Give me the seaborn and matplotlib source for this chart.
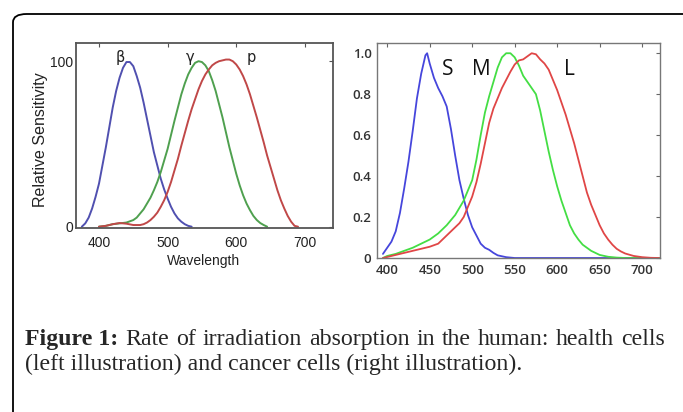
import numpy as np
import pandas as pd
import matplotlib
matplotlib.use("Agg")
import matplotlib.pyplot as plt
import seaborn as sns
from matplotlib.patches import FancyBboxPatch

# ---- left panel: healthy cells (relative sensitivity, 0-100)
beta_wl = [375, 380, 385, 390, 395, 400, 405, 410, 415, 420, 425, 430, 435, 440, 445, 450,
           455, 460, 465, 470, 475, 480, 485, 490, 495, 500, 505, 510, 515, 520, 525, 530, 535]
beta_val = [0, 2, 5.5, 11, 18, 26, 37, 48, 60, 72, 82, 90, 96, 99.5, 99.5, 97,
            91, 84, 75, 65, 55, 45, 37, 29, 22.5, 17, 12, 8, 5, 3, 1.5, 0.5, 0]

gamma_wl = [400, 410, 420, 430, 440, 450, 455, 460, 465, 470, 475, 480, 485, 490, 495, 500,
            505, 510, 515, 520, 525, 530, 535, 540, 545, 550, 555, 560, 565, 570, 575, 580,
            585, 590, 595, 600, 605, 610, 615, 620, 625, 630, 635, 640, 645]
gamma_val = [0, 0.5, 1.5, 2, 2.5, 4, 5.5, 8, 10.5, 14, 17.5, 22, 27, 33, 40, 47,
             55.5, 64, 72, 80, 86.5, 92, 96, 99, 100, 99.5, 97.5, 94, 88.5, 82, 74, 66,
             57, 48, 40, 32, 25, 19, 14, 10, 6.5, 4, 2.2, 1, 0]

rho_wl = [400, 410, 420, 430, 440, 450, 460, 465, 470, 475, 480, 485, 490, 495, 500, 505,
          510, 515, 520, 525, 530, 535, 540, 545, 550, 555, 560, 565, 570, 575, 580, 585,
          590, 595, 600, 605, 610, 615, 620, 625, 630, 635, 640, 645, 650, 655, 660, 665,
          670, 675, 680, 685, 690]
rho_val = [0, 0.5, 1.5, 2.2, 1.8, 1, 1, 1.5, 2.5, 4, 6, 8.5, 12, 16, 21, 27,
           34, 41, 49, 56.5, 64, 71, 77, 83, 88, 92, 95, 97.5, 99, 100, 100.5, 101,
           101, 100, 98, 95, 91, 86, 80, 73, 66, 58.5, 51, 43, 36, 29, 22, 16,
           11, 6.5, 3, 0.5, 0]

# ---- right panel: cancer cells (normalised absorption, 0-1)
s_wl = [395, 400, 405, 410, 415, 420, 425, 430, 435, 440, 445, 447, 450, 455, 460, 465, 470,
        475, 480, 485, 490, 495, 500, 505, 510, 515, 520, 525, 530, 540, 550, 720]
s_val = [0.02, 0.05, 0.08, 0.13, 0.22, 0.34, 0.47, 0.62, 0.78, 0.9, 0.99, 1.0, 0.95, 0.88, 0.83,
         0.79, 0.74, 0.63, 0.5, 0.38, 0.29, 0.21, 0.15, 0.11, 0.07, 0.05, 0.04, 0.025, 0.013,
         0.004, 0.0, 0.0]

m_wl = [395, 400, 410, 420, 430, 440, 450, 460, 470, 480, 490, 495, 500, 505, 510, 515, 520,
        525, 530, 535, 540, 545, 550, 555, 560, 565, 570, 575, 580, 585, 590, 595, 600, 605,
        610, 615, 620, 625, 630, 640, 650, 660, 670, 680, 720]
m_val = [0.0, 0.01, 0.02, 0.035, 0.05, 0.07, 0.09, 0.12, 0.16, 0.21, 0.28, 0.33, 0.38, 0.48,
         0.6, 0.71, 0.79, 0.86, 0.93, 0.98, 1.0, 1.0, 0.98, 0.94, 0.89, 0.86, 0.83, 0.8, 0.72,
         0.62, 0.52, 0.43, 0.35, 0.28, 0.22, 0.16, 0.12, 0.09, 0.065, 0.035, 0.015, 0.006,
         0.002, 0.0, 0.0]

l_wl = [395, 400, 410, 420, 430, 440, 450, 460, 465, 470, 475, 480, 485, 490, 495, 500, 505,
        510, 515, 520, 525, 530, 535, 540, 545, 550, 555, 560, 565, 570, 575, 580, 585, 590,
        595, 600, 605, 610, 615, 620, 625, 630, 635, 640, 645, 650, 655, 660, 665, 670, 675,
        680, 690, 700, 710, 720]
l_val = [0.0, 0.005, 0.015, 0.025, 0.035, 0.045, 0.055, 0.07, 0.09, 0.11, 0.13, 0.15, 0.17,
         0.2, 0.25, 0.3, 0.37, 0.46, 0.56, 0.66, 0.73, 0.78, 0.83, 0.87, 0.91, 0.945, 0.965,
         0.97, 0.985, 1.0, 0.995, 0.97, 0.95, 0.92, 0.87, 0.82, 0.76, 0.7, 0.63, 0.56, 0.48,
         0.4, 0.32, 0.26, 0.21, 0.16, 0.12, 0.09, 0.065, 0.045, 0.032, 0.022, 0.01, 0.004,
         0.001, 0.0]

left_xticks = [400, 500, 600, 700]
left_yticks = [0, 100]
right_xticks = [400, 450, 500, 550, 600, 650, 700]
right_yticks = [0, 0.2, 0.4, 0.6, 0.8, 1.0]
right_ylabels = ["0", "0.2", "0.4", "0.6", "0.8", "1.0"]

caption_bold = "Figure 1:"
caption_line1 = "Rate of irradiation absorption in the human: health cells"
caption_line2 = "(left illustration) and cancer cells (right illustration)."

sns.set_style("white")
W, H = 683, 412
fig = plt.figure(figsize=(W / 100, H / 100), dpi=100)

# rounded frame around the figure (runs off the right and bottom edges)
frame = FancyBboxPatch((13 / W, -0.1), 1.2, (412 - 14) / H + 0.1,
                       boxstyle="round,pad=0,rounding_size=0.02",
                       transform=fig.transFigure, fill=False, lw=1.3, ec="black")
fig.patches.append(frame)

# ---------- left panel
ax1 = fig.add_axes([76 / W, (H - 228) / H, 257 / W, 185 / H])
sns.lineplot(x=beta_wl, y=beta_val, ax=ax1, color="#5050b0", lw=1.4)
sns.lineplot(x=gamma_wl, y=gamma_val, ax=ax1, color="#4fa04f", lw=1.4)
sns.lineplot(x=rho_wl, y=rho_val, ax=ax1, color="#c04848", lw=1.4)
ax1.set_xlim(366.5, 741)
ax1.set_ylim(-0.8, 111)
ax1.set_xticks(left_xticks)
ax1.set_yticks(left_yticks)
ax1.tick_params(direction="in", length=3, width=0.8, color="#555555",
                top=True, right=True, labelsize=10, pad=2, labelcolor="#222222")
ax1.tick_params(axis="x", pad=6)
for lbl in ax1.get_xticklabels() + ax1.get_yticklabels():
    lbl.set_family("Liberation Sans")
for sp in ax1.spines.values():
    sp.set_color("#555555")
    sp.set_linewidth(1.3)
ax1.set_xlabel("Wavelength", family="Liberation Sans", fontsize=10, color="#222222")
ax1.set_ylabel("Relative Sensitivity", family="Liberation Sans", fontsize=11.5,
               color="#222222")
ax1.xaxis.set_label_coords(0.498, -0.14)
ax1.yaxis.set_label_coords(-0.11, 0.476)
for txt, xv in [("β", 431), ("γ", 533), ("p", 622)]:
    ax1.text(xv, 102, txt, family="DejaVu Sans", fontsize=10.5, color="#222222",
             ha="center", va="center")

# ---------- right panel
ax2 = fig.add_axes([377 / W, (H - 258) / H, 283 / W, 215 / H])
sns.lineplot(x=s_wl, y=s_val, ax=ax2, color="#4646dc", lw=1.3)
sns.lineplot(x=m_wl, y=m_val, ax=ax2, color="#44de44", lw=1.3)
sns.lineplot(x=l_wl, y=l_val, ax=ax2, color="#e04646", lw=1.3)
ax2.set_xlim(388, 721)
ax2.set_ylim(0, 1.05)
ax2.set_xticks(right_xticks)
ax2.set_yticks(right_yticks)
ax2.set_yticklabels(right_ylabels)
ax2.tick_params(direction="in", length=3, width=0.8, color="#666666",
                top=True, right=True, labelsize=9.5, pad=4, labelcolor="#333333")
for lbl in ax2.get_xticklabels() + ax2.get_yticklabels():
    lbl.set_family("Open Sans")
    lbl.set_weight("semibold")
for sp in ax2.spines.values():
    sp.set_color("#777777")
    sp.set_linewidth(1.0)
for txt, xv in [("S", 471), ("M", 511), ("L", 615)]:
    ax2.text(xv, 0.92, txt, family="Open Sans", fontsize=15, color="#111111",
             ha="center", va="center")

# ---------- caption, line 1 justified between x=25 and x=665
renderer = fig.canvas.get_renderer()
x0, x1 = 25, 665
words = [(caption_bold, "bold")] + [(w, "normal") for w in caption_line1.split()]
items = []
for w, wt in words:
    t = fig.text(0, (H - 345) / H, w, family="Liberation Serif", fontsize=17.2,
                 weight=wt, va="baseline", ha="left")
    items.append(t)
widths = [t.get_window_extent(renderer).width for t in items]
gap = (x1 - x0 - sum(widths)) / (len(items) - 1)
xp = x0
for t, wd in zip(items, widths):
    t.set_x(xp / W)
    xp += wd + gap
fig.text(x0 / W, (H - 370) / H, caption_line2, family="Liberation Serif",
         fontsize=17.2, va="baseline", ha="left")

fig.savefig("out.png", dpi=100)
